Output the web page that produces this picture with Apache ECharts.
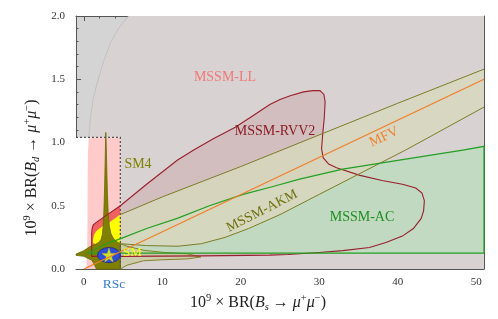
<!DOCTYPE html>
<html><head><meta charset="utf-8">
<script src="https://cdn.jsdelivr.net/npm/echarts@6/dist/echarts.min.js"></script>
<style>html,body{margin:0;padding:0;background:#fff}#c{width:498px;height:319px}</style>
</head><body><div id="c"></div>
<script>
// ---- tick labels ----
const xMajor = [0, 10, 20, 30, 40, 50];
const xMinor = [2,4,6,8,12,14,16,18,22,24,26,28,32,34,36,38,42,44,46,48];
const rscX = 3.85;
const rscLabel = 'RSc';

// ---- regions (x = 1e9 BR(Bs->mumu), y = 1e9 BR(Bd->mumu)) ----
const llBoundary = [[0.3,0],[0.42,0.15],[0.47,0.4],[0.48,0.7],[0.52,0.92],[0.63,1.04],[0.85,1.2],[1.2,1.35],[1.7,1.47],[2.5,1.64],[3.4,1.79],[4.5,1.91],[5.7,2.0]];
const sm4BoxCorner = [4.65, 1.04];
const rvv2 = [[1.0,0.10],[1.0,0.28],[1.05,0.32],[1.2,0.35],[1.5,0.365],[3,0.43],[4.65,0.5],[8,0.67],[11.9,0.86],[14,0.94],[16.5,1.03],[19.3,1.12],[21.5,1.21],[23.7,1.30],[25,1.34],[26.3,1.37],[28,1.40],[29.2,1.41],[30.1,1.41],[30.6,1.38],[30.75,1.32],[30.65,1.2],[30.45,1.07],[30.3,0.95],[30.5,0.88],[31.2,0.83],[32.2,0.80],[35.2,0.74],[38,0.70],[40.6,0.67],[42.3,0.64],[43.1,0.60],[43.4,0.54],[43.3,0.46],[43,0.40],[42,0.32],[40.6,0.26],[38.5,0.21],[36.4,0.17],[33,0.145],[30,0.13],[26,0.115],[23.7,0.11],[15,0.104],[5,0.1]];
const acUpper = [[0.5,0.125],[2.5,0.19],[4.7,0.24],[8,0.32],[11.9,0.40],[16,0.5],[20.3,0.59],[24,0.65],[27.5,0.71],[33,0.79],[40.2,0.86],[48.3,0.94],[51,0.97]];
const acLower = [[0.5,0.125],[51,0.125]];
const akmUpper = [[1.15,0.23],[1.3,0.27],[1.6,0.30],[2.2,0.33],[3.5,0.38],[4.65,0.43],[10,0.57],[20,0.81],[30,1.06],[40,1.31],[51,1.58]];
const akmLower = [[1.15,0.21],[1.3,0.2],[2,0.2],[4.65,0.2],[8,0.185],[12,0.18],[15,0.2],[18,0.25],[21,0.32],[25,0.43],[30,0.59],[41,0.94],[51,1.28]];
const sm4Core = [[-1,0.118],[0,0.145],[0.6,0.17],[1.0,0.185],[1.5,0.195],[1.9,0.21],[2.2,0.235],[2.35,0.27],[2.45,0.33],[2.55,0.45],[2.63,0.6],[2.7,0.8],[2.76,0.98],[2.8,1.08],[2.85,0.98],[2.92,0.8],[3.0,0.6],[3.1,0.45],[3.25,0.34],[3.45,0.28],[3.8,0.24],[4.2,0.215],[4.65,0.2],[4.65,0],[1.6,0],[1.3,0.04],[1.0,0.07],[0,0.1],[-1,0.108]];
const sm4LensUpper = [[4.65,0.2],[5.5,0.18],[7.6,0.148],[10,0.132],[13.2,0.12],[14.9,0.095]];
const sm4LensLower = [[4.65,0.0],[5.5,0.03],[7.6,0.065],[10,0.073],[13.2,0.08],[14.9,0.095]];
const mfvLine = [[0,0],[51,1.5]];
const smPoint = [3.2, 0.11];
const rscCenter = [3.2, 0.11];
const rscRadius = [1.45, 0.06];

// ---- helpers ----
function clipPoly(poly, axis, limit){
  const out=[]; const n=poly.length;
  for(let i=0;i<n;i++){
    const a=poly[i], b=poly[(i+1)%n];
    const ain=a[axis]<=limit, bin=b[axis]<=limit;
    if(ain) out.push(a);
    if(ain!==bin){
      const t=(limit-a[axis])/(b[axis]-a[axis]);
      const p=[a[0]+t*(b[0]-a[0]), a[1]+t*(b[1]-a[1])];
      p[axis]=limit; out.push(p);
    }
  }
  return out;
}
const llPoly = llBoundary.concat([[51,2],[51,0]]);
const boxPoly = [[-1,0],[-1,sm4BoxCorner[1]],[sm4BoxCorner[0],sm4BoxCorner[1]],[sm4BoxCorner[0],0]];
const llInBox = clipPoly(clipPoly(llPoly,1,sm4BoxCorner[1]),0,sm4BoxCorner[0]);
const rvvInBox = clipPoly(rvv2,0,sm4BoxCorner[0]);
const acPoly = acUpper.concat(acLower.slice().reverse());
const akmPoly = akmUpper.concat(akmLower.slice().reverse());
const akmInBox = clipPoly(akmPoly,0,sm4BoxCorner[0]);
const outside = pts => pts.filter(p=>p[0]>=sm4BoxCorner[0]);
const lensPoly = sm4LensUpper.concat(sm4LensLower.slice().reverse());

function shape(type, pts, style, smooth){
  return {type:'custom', coordinateSystem:'cartesian2d', xAxisIndex:0, yAxisIndex:0, silent:true, data:[[0,0]],
    renderItem:(params, api)=>({type:type, shape:{points:pts.map(p=>api.coord(p)), smooth:smooth||0}, style:style})};
}
const serif = '"Liberation Serif", "DejaVu Serif", serif';

const series = [
  shape('polygon', llPoly, {fill:'#d9d2d2'}),
  shape('polyline', llBoundary, {fill:null, stroke:'#bcbcbc', lineWidth:0.8}),
  shape('polygon', rvv2, {fill:'rgba(165,45,60,0.12)'}),
  shape('polygon', acPoly, {fill:'rgba(190,218,192,0.93)'}),
  shape('polygon', akmPoly, {fill:'rgba(215,215,190,0.88)'}),
  shape('polygon', boxPoly, {fill:'#ffffff'}),
  shape('polygon', llInBox, {fill:'#ffcaca'}),
  shape('polygon', rvvInBox, {fill:'#f06262'}),
  shape('polygon', akmInBox, {fill:'#ffff00'}),
  shape('polygon', lensPoly, {fill:'rgba(200,200,160,0.75)', stroke:'#7a7a10', lineWidth:0.9}),
  shape('polygon', sm4Core, {fill:'#808000', stroke:'#6a6a00', lineWidth:0.8}),
  shape('polyline', [[-1,sm4BoxCorner[1]],sm4BoxCorner,[sm4BoxCorner[0],0]], {fill:null, stroke:'#555', lineWidth:1.3, lineDash:[2,2]}),
  shape('polygon', rvv2, {fill:null, stroke:'#9a1f2c', lineWidth:1.1}),
  shape('polyline', outside(akmUpper), {fill:null, stroke:'#7d7d25', lineWidth:1}),
  shape('polyline', outside(akmLower), {fill:null, stroke:'#7d7d25', lineWidth:1}),
  shape('polygon', acPoly, {fill:null, stroke:'#22a022', lineWidth:1.2}),
  {type:'line', data:mfvLine, xAxisIndex:0, yAxisIndex:0, symbol:'none', silent:true,
   lineStyle:{color:'#f07f2a', width:1.3}},
  {type:'custom', coordinateSystem:'cartesian2d', xAxisIndex:0, yAxisIndex:0, silent:true, data:[rscCenter],
   renderItem:(params, api)=>{
     const c=api.coord(rscCenter); const s=api.size([2*rscRadius[0], 2*rscRadius[1]]);
     return {type:'path', shape:{pathData:'M0,50A50,50,0,1,0,100,50A50,50,0,1,0,0,50Z', x:c[0]-s[0]/2, y:c[1]-s[1]/2, width:s[0], height:s[1], layout:'cover'},
       style:{fill:'#2d4fd8', stroke:'#1a2a80', lineWidth:0.8}};
   }},
  {type:'scatter', data:[smPoint], xAxisIndex:0, yAxisIndex:0, silent:true,
   symbol:'path://M50,0L61,35L98,35L68,57L79,91L50,70L21,91L32,57L2,35L39,35Z', symbolSize:14,
   itemStyle:{color:'#ffff00', borderColor:'#d8c800', borderWidth:0.5}}
];

const axisCol = '#555';
function xAx(pos, vals, len, labels){
  return {type:'value', min:-1, max:51, position:pos,
    axisLine:{show:!!labels || pos==='top' && len>3, onZero:false, lineStyle:{color:axisCol, width:1}},
    axisTick:{show:true, inside:true, length:len, customValues:vals, lineStyle:{color:axisCol, width:1}},
    axisLabel: labels ? {customValues: xMajor.concat([rscX]), fontFamily:serif, fontSize:11, color:'#333', margin:8,
       formatter: v => (Math.abs(v-rscX)<1e-6 ? '{rs|'+rscLabel+'}' : String(v)),
       rich:{rs:{color:'#3a7cc8', fontSize:13.5, fontFamily:serif}}} : {show:false},
    splitLine:{show:false}};
}
function yAx(pos, labels){
  return {type:'value', min:0, max:2, interval:0.5, position:pos,
    axisLine:{show:true, onZero:false, lineStyle:{color:axisCol, width:1}},
    axisTick:{show:true, inside:true, length:5, lineStyle:{color:axisCol, width:1}},
    minorTick:{show:true, splitNumber:5, length:2.5, lineStyle:{color:axisCol, width:1}},
    axisLabel: labels ? {fontFamily:serif, fontSize:11, color:'#333', margin:11, formatter:v=>v.toFixed(1)} : {show:false},
    splitLine:{show:false}, minorSplitLine:{show:false}};
}

const nameRich = {
  n:{fontSize:16, lineHeight:20, fontFamily:serif, fill:'#222'},
  i:{fontSize:16, lineHeight:20, fontFamily:serif, fontStyle:'italic', fill:'#222'},
  sup:{fontSize:10.5, lineHeight:10, verticalAlign:'top', fontFamily:serif, fill:'#222'},
  sub:{fontSize:10.5, lineHeight:10, verticalAlign:'bottom', fontFamily:serif, fontStyle:'italic', fill:'#222'}
};
function lbl(x,y,text,color,rot){
  return {type:'text', x:x, y:y, rotation:(rot||0)*Math.PI/180, silent:true, z:100,
    style:{text:text, fill:color, font:'14px '+serif, align:'center', verticalAlign:'middle'}};
}

const option = {
  animation:false,
  backgroundColor:'#ffffff',
  grid:{left:76, right:14, top:16, bottom:50, show:true, backgroundColor:'#d4d4d4', borderWidth:0},
  xAxis:[ xAx('bottom', xMajor, 5, true), xAx('bottom', xMinor, 2.5, false), xAx('top', xMajor, 5, false), xAx('top', xMinor, 2.5, false) ],
  yAxis:[ yAx('left', true), yAx('right', false) ],
  series:series,
  graphic:[
    lbl(225, 77, 'MSSM-LL', '#f07878'),
    lbl(275, 131, 'MSSM-RVV2', '#8b1c24'),
    lbl(138, 164, 'SM4', '#808000'),
    lbl(362, 217, 'MSSM-AC', '#1f8f1f'),
    lbl(262, 211, 'MSSM-AKM', '#707010', 27),
    lbl(384, 137, 'MFV', '#f08030', 25),
    {type:'text', x:123, y:253, silent:true, z:100, style:{text:'SM', fill:'#ffff00', font:'13px '+serif, align:'left', verticalAlign:'middle'}},
    {type:'text', x:258, y:303, silent:true, z:100,
     style:{text:'{n|10}{sup|9}{n| × BR(}{i|B}{sub|s}{n| → }{i|μ}{sup|+}{i|μ}{sup|−}{n|)}', rich:nameRich, align:'center', verticalAlign:'middle'}},
    {type:'text', x:32, y:168, rotation:Math.PI/2, silent:true, z:100,
     style:{text:'{n|10}{sup|9}{n| × BR(}{i|B}{sub|d}{n| → }{i|μ}{sup|+}{i|μ}{sup|−}{n|)}', rich:nameRich, align:'center', verticalAlign:'middle'}}
  ]
};
const chart = echarts.init(document.getElementById('c'), null, {renderer:'canvas'});
chart.setOption(option);
</script></body></html>
